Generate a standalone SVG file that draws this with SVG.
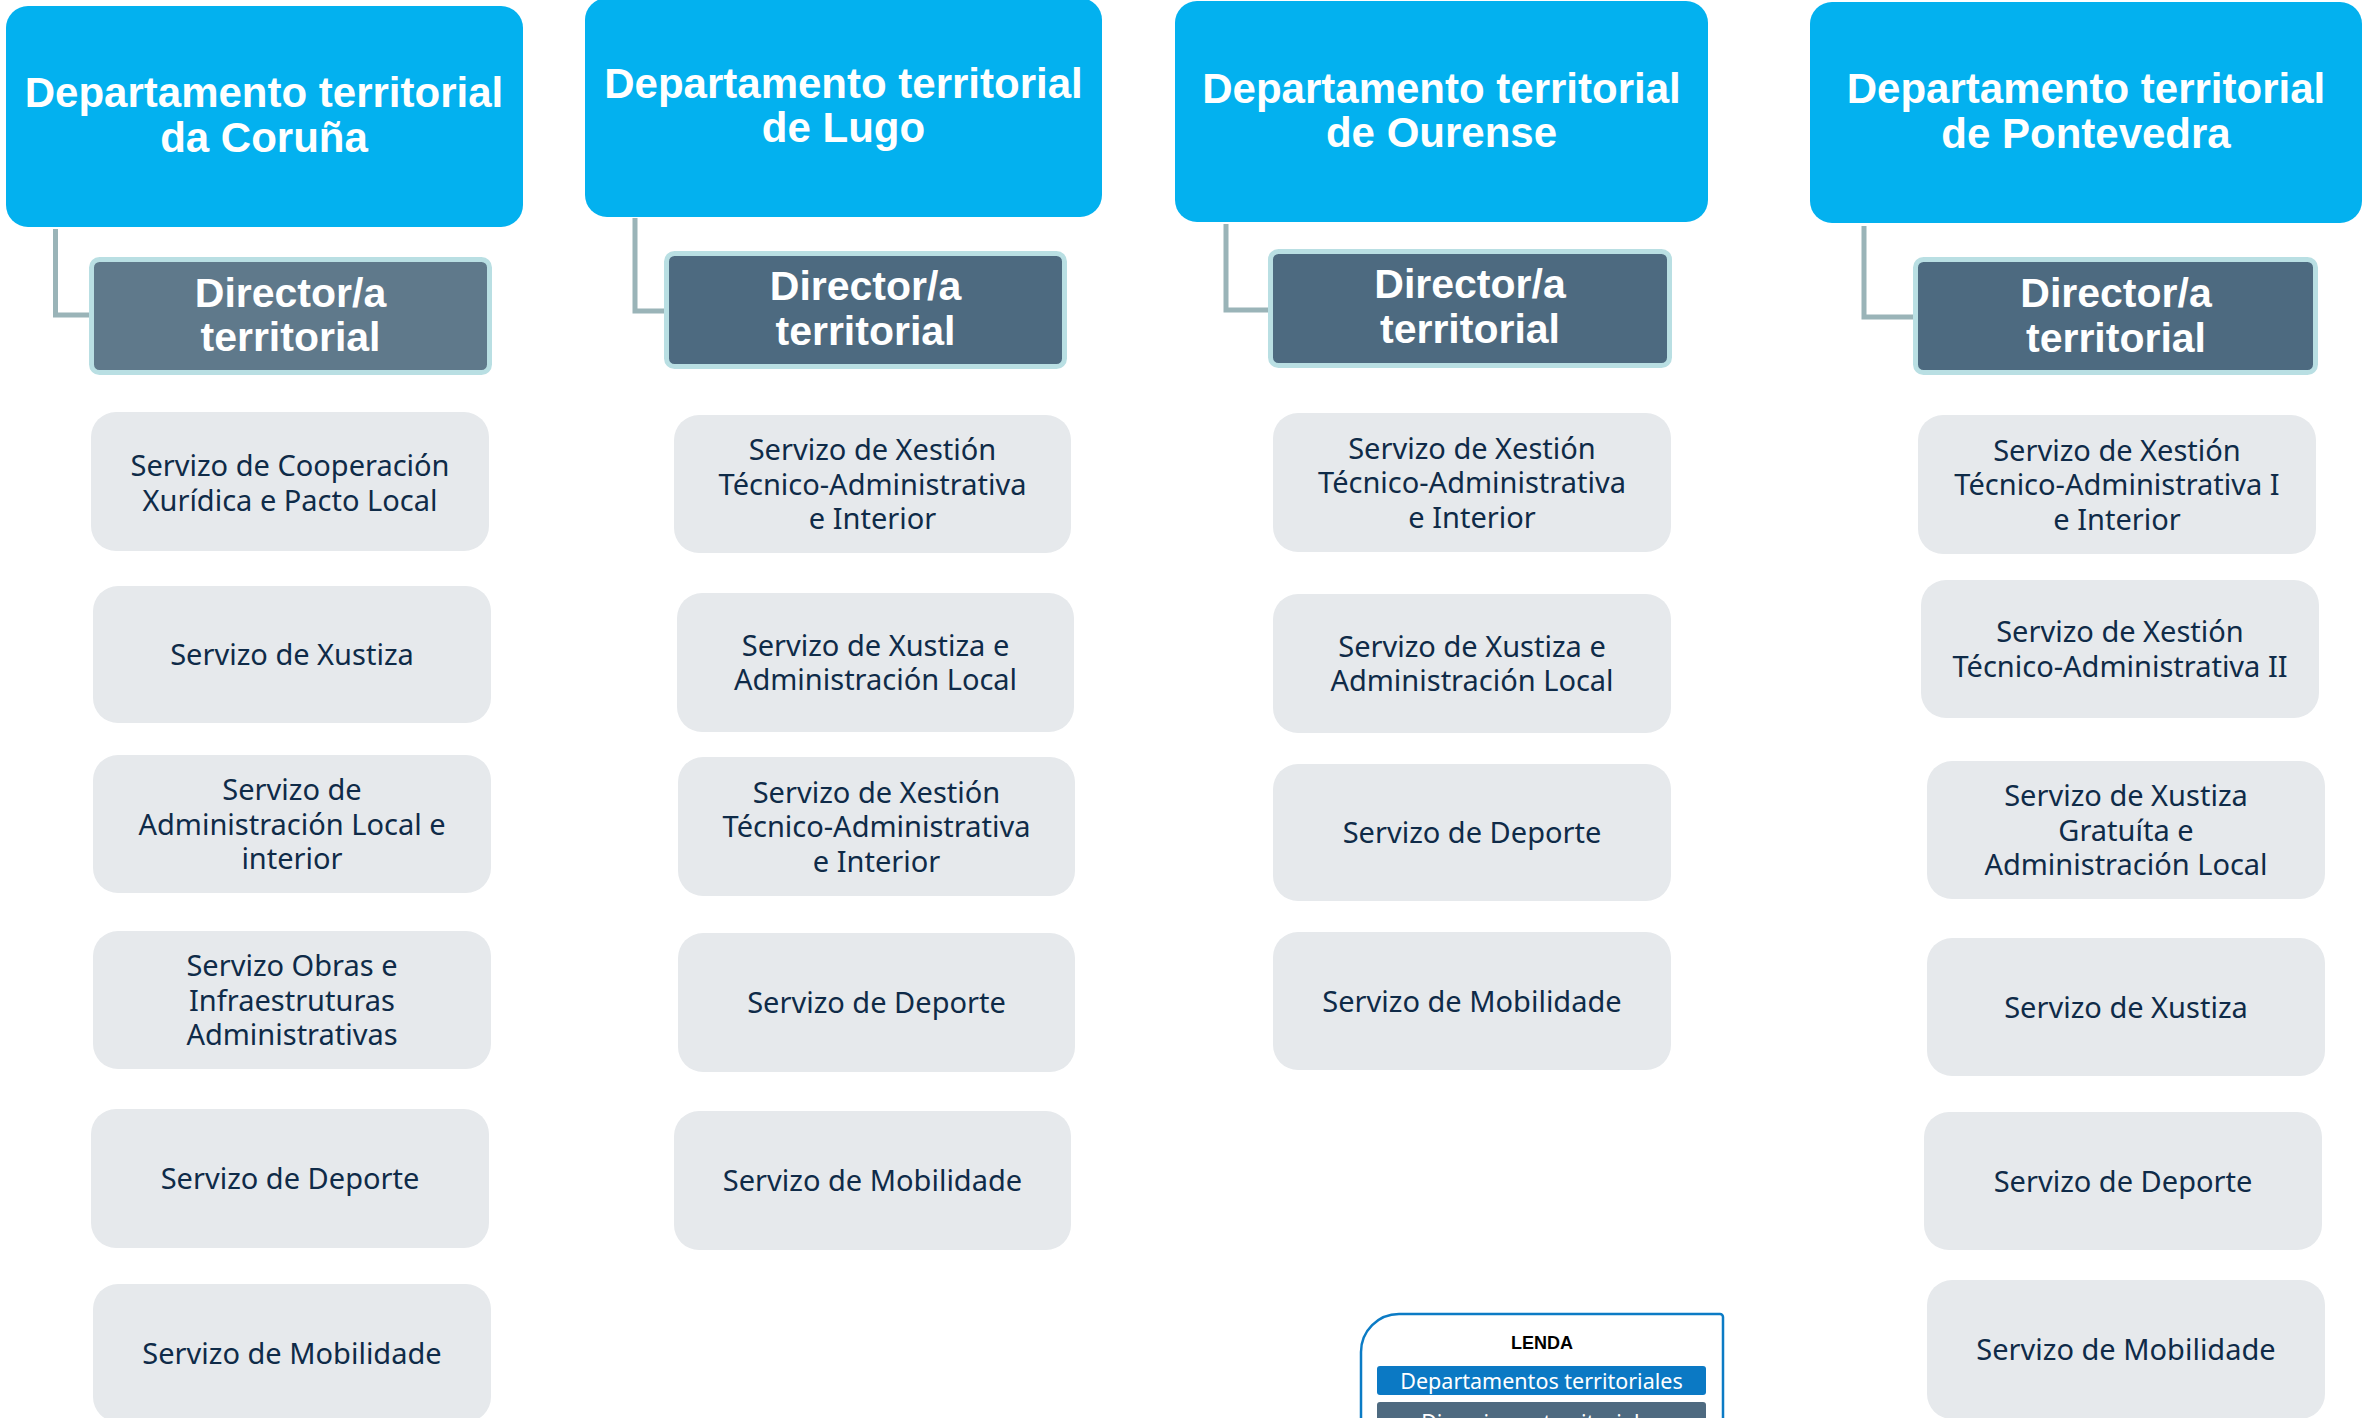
<svg xmlns="http://www.w3.org/2000/svg" width="2368" height="1418" viewBox="0 0 2368 1418">
<style>
.dept{fill:#03B1EF}
.dept-t{font-family:"Liberation Sans",Arial,sans-serif;font-weight:bold;font-size:42px;fill:#FFFFFF;text-anchor:middle}
.dir{fill:#4D6A80;stroke:#B9DFE3;stroke-width:5}
.dir-c{fill:#5F798B}
.dir-t{font-family:"Liberation Sans",Arial,sans-serif;font-weight:bold;font-size:41px;fill:#FFFFFF;text-anchor:middle}
.srv{fill:#E6E9EC}
.srv-t{font-family:"Noto Sans","Open Sans",sans-serif;font-size:29px;fill:#0F2B48;text-anchor:middle}
.conn{fill:none;stroke:#9AB4B8;stroke-width:5}
.leg-t{font-family:"Noto Sans","Open Sans",sans-serif;font-size:21.5px;fill:#FFFFFF;text-anchor:middle}
</style>
<rect width="2368" height="1418" fill="#FFFFFF"/>

<g id="connectors">
<path class="conn" d="M55.5 229 V315 H91"/>
<path class="conn" d="M635 218 V311 H666"/>
<path class="conn" d="M1226 224 V310 H1270"/>
<path class="conn" d="M1864 226 V317 H1915"/>
</g>

<!-- Coruña -->
<g id="dept-coruna">
<rect class="dept" x="6" y="6" width="517" height="221" rx="22"/>
<text class="dept-t" x="264" y="107">Departamento territorial</text>
<text class="dept-t" x="264" y="152">da Coruña</text>
</g>
<g id="dir-coruna">
<rect class="dir dir-c" x="91.5" y="259.5" width="398" height="113" rx="8"/>
<text class="dir-t" x="290.5" y="307">Director/a</text>
<text class="dir-t" x="290.5" y="351">territorial</text>
</g>
<g id="srv-coruna-1">
<rect class="srv" x="91" y="412" width="398" height="139" rx="25"/>
<text class="srv-t"><tspan x="290" y="476">Servizo de Cooperación</tspan><tspan x="290" y="510.5">Xurídica e Pacto Local</tspan></text>
</g>
<g id="srv-coruna-2">
<rect class="srv" x="93" y="586" width="398" height="137" rx="25"/>
<text class="srv-t" x="292" y="665">Servizo de Xustiza</text>
</g>
<g id="srv-coruna-3">
<rect class="srv" x="93" y="755" width="398" height="138" rx="25"/>
<text class="srv-t"><tspan x="292" y="800">Servizo de</tspan><tspan x="292" y="834.5">Administración Local e</tspan><tspan x="292" y="869">interior</tspan></text>
</g>
<g id="srv-coruna-4">
<rect class="srv" x="93" y="931" width="398" height="138" rx="25"/>
<text class="srv-t"><tspan x="292" y="976">Servizo Obras e</tspan><tspan x="292" y="1010.5">Infraestruturas</tspan><tspan x="292" y="1045">Administrativas</tspan></text>
</g>
<g id="srv-coruna-5">
<rect class="srv" x="91" y="1109" width="398" height="139" rx="25"/>
<text class="srv-t" x="290" y="1189">Servizo de Deporte</text>
</g>
<g id="srv-coruna-6">
<rect class="srv" x="93" y="1284" width="398" height="138" rx="25"/>
<text class="srv-t" x="292" y="1364">Servizo de Mobilidade</text>
</g>

<!-- Lugo -->
<g id="dept-lugo">
<rect class="dept" x="585" y="-2" width="517" height="219" rx="22"/>
<text class="dept-t" x="843.5" y="98">Departamento territorial</text>
<text class="dept-t" x="843.5" y="142">de Lugo</text>
</g>
<g id="dir-lugo">
<rect class="dir" x="666.5" y="253.5" width="398" height="113" rx="8"/>
<text class="dir-t" x="865.5" y="300">Director/a</text>
<text class="dir-t" x="865.5" y="345">territorial</text>
</g>
<g id="srv-lugo-1">
<rect class="srv" x="674" y="415" width="397" height="138" rx="25"/>
<text class="srv-t"><tspan x="872.5" y="460">Servizo de Xestión</tspan><tspan x="872.5" y="494.5">Técnico-Administrativa</tspan><tspan x="872.5" y="529">e Interior</tspan></text>
</g>
<g id="srv-lugo-2">
<rect class="srv" x="677" y="593" width="397" height="139" rx="25"/>
<text class="srv-t"><tspan x="875.5" y="655.5">Servizo de Xustiza e</tspan><tspan x="875.5" y="690">Administración Local</tspan></text>
</g>
<g id="srv-lugo-3">
<rect class="srv" x="678" y="757" width="397" height="139" rx="25"/>
<text class="srv-t"><tspan x="876.5" y="802.5">Servizo de Xestión</tspan><tspan x="876.5" y="837">Técnico-Administrativa</tspan><tspan x="876.5" y="871.5">e Interior</tspan></text>
</g>
<g id="srv-lugo-4">
<rect class="srv" x="678" y="933" width="397" height="139" rx="25"/>
<text class="srv-t" x="876.5" y="1013">Servizo de Deporte</text>
</g>
<g id="srv-lugo-5">
<rect class="srv" x="674" y="1111" width="397" height="139" rx="25"/>
<text class="srv-t" x="872.5" y="1191">Servizo de Mobilidade</text>
</g>

<!-- Ourense -->
<g id="dept-ourense">
<rect class="dept" x="1175" y="1" width="533" height="221" rx="22"/>
<text class="dept-t" x="1441.5" y="103">Departamento territorial</text>
<text class="dept-t" x="1441.5" y="147">de Ourense</text>
</g>
<g id="dir-ourense">
<rect class="dir" x="1270.5" y="251.5" width="399" height="114" rx="8"/>
<text class="dir-t" x="1470" y="298">Director/a</text>
<text class="dir-t" x="1470" y="343">territorial</text>
</g>
<g id="srv-ourense-1">
<rect class="srv" x="1273" y="413" width="398" height="139" rx="25"/>
<text class="srv-t"><tspan x="1472" y="458.5">Servizo de Xestión</tspan><tspan x="1472" y="493">Técnico-Administrativa</tspan><tspan x="1472" y="527.5">e Interior</tspan></text>
</g>
<g id="srv-ourense-2">
<rect class="srv" x="1273" y="594" width="398" height="139" rx="25"/>
<text class="srv-t"><tspan x="1472" y="656.5">Servizo de Xustiza e</tspan><tspan x="1472" y="691">Administración Local</tspan></text>
</g>
<g id="srv-ourense-3">
<rect class="srv" x="1273" y="764" width="398" height="137" rx="25"/>
<text class="srv-t" x="1472" y="843">Servizo de Deporte</text>
</g>
<g id="srv-ourense-4">
<rect class="srv" x="1273" y="932" width="398" height="138" rx="25"/>
<text class="srv-t" x="1472" y="1011.5">Servizo de Mobilidade</text>
</g>

<!-- Pontevedra -->
<g id="dept-pontevedra">
<rect class="dept" x="1810" y="2" width="552" height="221" rx="22"/>
<text class="dept-t" x="2086" y="103">Departamento territorial</text>
<text class="dept-t" x="2086" y="148">de Pontevedra</text>
</g>
<g id="dir-pontevedra">
<rect class="dir" x="1915.5" y="259.5" width="400" height="113" rx="8"/>
<text class="dir-t" x="2116" y="307">Director/a</text>
<text class="dir-t" x="2116" y="352">territorial</text>
</g>
<g id="srv-pontevedra-1">
<rect class="srv" x="1918" y="415" width="398" height="139" rx="25"/>
<text class="srv-t"><tspan x="2117" y="460.5">Servizo de Xestión</tspan><tspan x="2117" y="495">Técnico-Administrativa I</tspan><tspan x="2117" y="529.5">e Interior</tspan></text>
</g>
<g id="srv-pontevedra-2">
<rect class="srv" x="1921" y="580" width="398" height="138" rx="25"/>
<text class="srv-t"><tspan x="2120" y="642">Servizo de Xestión</tspan><tspan x="2120" y="677">Técnico-Administrativa II</tspan></text>
</g>
<g id="srv-pontevedra-3">
<rect class="srv" x="1927" y="761" width="398" height="138" rx="25"/>
<text class="srv-t"><tspan x="2126" y="806">Servizo de Xustiza</tspan><tspan x="2126" y="840.5">Gratuíta e</tspan><tspan x="2126" y="875">Administración Local</tspan></text>
</g>
<g id="srv-pontevedra-4">
<rect class="srv" x="1927" y="938" width="398" height="138" rx="25"/>
<text class="srv-t" x="2126" y="1017.5">Servizo de Xustiza</text>
</g>
<g id="srv-pontevedra-5">
<rect class="srv" x="1924" y="1112" width="398" height="138" rx="25"/>
<text class="srv-t" x="2123" y="1191.5">Servizo de Deporte</text>
</g>
<g id="srv-pontevedra-6">
<rect class="srv" x="1927" y="1280" width="398" height="139" rx="25"/>
<text class="srv-t" x="2126" y="1360">Servizo de Mobilidade</text>
</g>

<!-- Legend -->
<g id="legend">
<path d="M1361 1430 V1352 A38 38 0 0 1 1399 1314 H1720 A3 3 0 0 1 1723 1317 V1430" fill="#FFFFFF" stroke="#0B7BC5" stroke-width="2.5"/>
<text x="1542" y="1349" font-family="Liberation Sans, Arial, sans-serif" font-weight="bold" font-size="18" fill="#000000" text-anchor="middle">LENDA</text>
<rect x="1377" y="1366" width="329" height="29" rx="3" fill="#0B79C4"/>
<text class="leg-t" x="1541.5" y="1389">Departamentos territoriales</text>
<rect x="1377" y="1402" width="329" height="29" rx="3" fill="#4E6A80"/>
<text class="leg-t" x="1541.5" y="1429.5">Direcciones territoriales</text>
</g>
</svg>
